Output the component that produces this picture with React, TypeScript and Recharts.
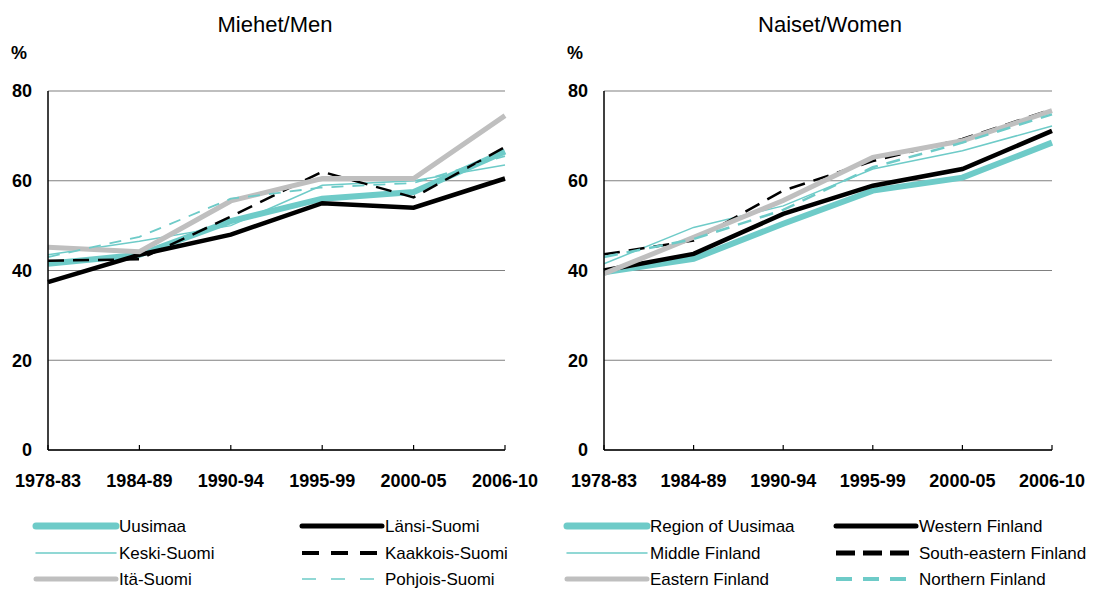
import React from 'react'
import { LineChart, Line, XAxis, YAxis, CartesianGrid } from 'recharts'

const periods = ['1978-83', '1984-89', '1990-94', '1995-99', '2000-05', '2006-10']
const yTicks = [0, 20, 40, 60, 80]

// Miehet / Men
const uusimaaMen = [41.5, 43.5, 51, 56, 57.5, 66.5]
const lansiMen = [37.4, 43.5, 48, 55, 54, 60.5]
const keskiMen = [43.5, 46.5, 50, 59, 60, 63.5]
const itaMen = [45.2, 44.2, 55.5, 60.5, 60.5, 74.5]
const kaakkoisMen = [42.2, 42.5, 52, 62, 56.3, 67.5]
const pohjoisMen = [43, 47.5, 56, 58.5, 59.5, 65.5]

// Naiset / Women
const uusimaaWomen = [39.6, 42.6, 50.4, 57.8, 60.7, 68.5]
const westernWomen = [40, 43.7, 52.6, 58.9, 62.6, 71.1]
const middleWomen = [41.5, 49.6, 54.4, 62.6, 66.7, 72.2]
const easternWomen = [39.3, 47.4, 55.6, 65.2, 68.9, 75.6]
const southEastWomen = [43.6, 46.7, 57.8, 64.4, 69.3, 75.9]
const northernWomen = [43, 47, 53.5, 63, 68.5, 74.8]

const TEAL = '#6ecbc8'
const GREY = '#bfbfbf'
const FONT = '"Liberation Sans", Arial, sans-serif'

interface SeriesDef {
  key: string
  name: string
  color: string
  width: number
  dash?: string
  legendWidth: number
  legendDash?: string
}

// legend order (row by row, two columns)
const menSeries: SeriesDef[] = [
  { key: 'uusimaa', name: 'Uusimaa', color: TEAL, width: 6, legendWidth: 7 },
  { key: 'lansi', name: 'Länsi-Suomi', color: '#000', width: 4.5, legendWidth: 5 },
  { key: 'keski', name: 'Keski-Suomi', color: TEAL, width: 1.5, legendWidth: 1.5 },
  { key: 'kaakkois', name: 'Kaakkois-Suomi', color: '#000', width: 2.5, dash: '16 9', legendWidth: 4, legendDash: '17 12' },
  { key: 'ita', name: 'Itä-Suomi', color: GREY, width: 5, legendWidth: 5 },
  { key: 'pohjois', name: 'Pohjois-Suomi', color: TEAL, width: 1.8, dash: '12 9', legendWidth: 1.5, legendDash: '14 15' },
]

const womenSeries: SeriesDef[] = [
  { key: 'uusimaa', name: 'Region of Uusimaa', color: TEAL, width: 6, legendWidth: 7 },
  { key: 'western', name: 'Western Finland', color: '#000', width: 4.5, legendWidth: 5 },
  { key: 'middle', name: 'Middle Finland', color: TEAL, width: 1.5, legendWidth: 1.5 },
  { key: 'southeast', name: 'South-eastern Finland', color: '#000', width: 2.5, dash: '16 9', legendWidth: 5, legendDash: '19 8' },
  { key: 'eastern', name: 'Eastern Finland', color: GREY, width: 5, legendWidth: 5 },
  { key: 'northern', name: 'Northern Finland', color: TEAL, width: 2.5, dash: '14 9', legendWidth: 4, legendDash: '16 11' },
]

const menData = periods.map((period, i) => ({
  period,
  uusimaa: uusimaaMen[i],
  lansi: lansiMen[i],
  keski: keskiMen[i],
  ita: itaMen[i],
  kaakkois: kaakkoisMen[i],
  pohjois: pohjoisMen[i],
}))

const womenData = periods.map((period, i) => ({
  period,
  uusimaa: uusimaaWomen[i],
  western: westernWomen[i],
  middle: middleWomen[i],
  eastern: easternWomen[i],
  southeast: southEastWomen[i],
  northern: northernWomen[i],
}))

const tickStyle = { fontSize: 18, fontWeight: 700, fill: '#000', fontFamily: FONT }

function Panel({ data, series, yAxisWidth, rightMargin }: {
  data: Record<string, string | number>[]
  series: SeriesDef[]
  yAxisWidth: number
  rightMargin: number
}) {
  return (
    <LineChart
      width={550}
      height={500}
      data={data}
      margin={{ top: 91, right: rightMargin, left: 0, bottom: 10 }}
    >
      <CartesianGrid vertical={false} stroke="#808080" strokeWidth={1.2} />
      <XAxis
        dataKey="period"
        interval={0}
        height={40}
        axisLine={{ stroke: '#000', strokeWidth: 1.5 }}
        tickLine={{ stroke: '#000', strokeWidth: 1.2 }}
        tickSize={-5}
        tickMargin={29}
        tick={tickStyle}
      />
      <YAxis
        width={yAxisWidth}
        domain={[0, 80]}
        ticks={yTicks}
        axisLine={{ stroke: '#000', strokeWidth: 1.5 }}
        tickLine={false}
        tickSize={0}
        tickMargin={16}
        tick={tickStyle}
      />
      {series.map((s) => (
        <Line
          key={s.key}
          type="linear"
          dataKey={s.key}
          stroke={s.color}
          strokeWidth={s.width}
          strokeDasharray={s.dash}
          dot={false}
          activeDot={false}
          isAnimationActive={false}
        />
      ))}
    </LineChart>
  )
}

function LegendBlock({ series, left, col2, lineLen }: {
  series: SeriesDef[]
  left: number
  col2: number
  lineLen: number
}) {
  const rows = [526, 553, 579]
  return (
    <svg width={1100} height={590} style={{ position: 'absolute', left: 0, top: 0, overflow: 'visible' }}>
      {series.map((s, i) => {
        const x0 = i % 2 === 0 ? left : col2
        const y = rows[Math.floor(i / 2)]
        return (
          <g key={s.key}>
            <line
              x1={x0}
              x2={x0 + lineLen}
              y1={y}
              y2={y}
              stroke={s.color}
              strokeWidth={s.legendWidth}
              strokeDasharray={s.legendDash}
              strokeLinecap={s.legendDash ? 'butt' : 'round'}
            />
            <text x={x0 + lineLen + 3} y={y + 6} fontSize={17} fontFamily={FONT} fill="#000">
              {s.name}
            </text>
          </g>
        )
      })}
    </svg>
  )
}

const labelStyle: React.CSSProperties = {
  position: 'absolute',
  fontFamily: FONT,
  color: '#000',
  whiteSpace: 'nowrap',
}

export default function App() {
  return (
    <div style={{ position: 'absolute', left: 0, top: 0, width: 1100, height: 590, background: '#fff', overflow: 'hidden' }}>
      <div style={{ position: 'absolute', left: 0, top: 0 }}>
        <Panel data={menData} series={menSeries} yAxisWidth={48} rightMargin={45} />
      </div>
      <div style={{ position: 'absolute', left: 550, top: 0 }}>
        <Panel data={womenData} series={womenSeries} yAxisWidth={54} rightMargin={48} />
      </div>

      <div style={{ ...labelStyle, left: 175, width: 200, top: 12, textAlign: 'center', fontSize: 22 }}>Miehet/Men</div>
      <div style={{ ...labelStyle, left: 730, width: 200, top: 12, textAlign: 'center', fontSize: 22 }}>Naiset/Women</div>
      <div style={{ ...labelStyle, left: 11, top: 43, fontSize: 18, fontWeight: 700 }}>%</div>
      <div style={{ ...labelStyle, left: 567, top: 43, fontSize: 18, fontWeight: 700 }}>%</div>

      <LegendBlock series={menSeries} left={36} col2={302} lineLen={80} />
      <LegendBlock series={womenSeries} left={567} col2={836} lineLen={80} />
    </div>
  )
}
